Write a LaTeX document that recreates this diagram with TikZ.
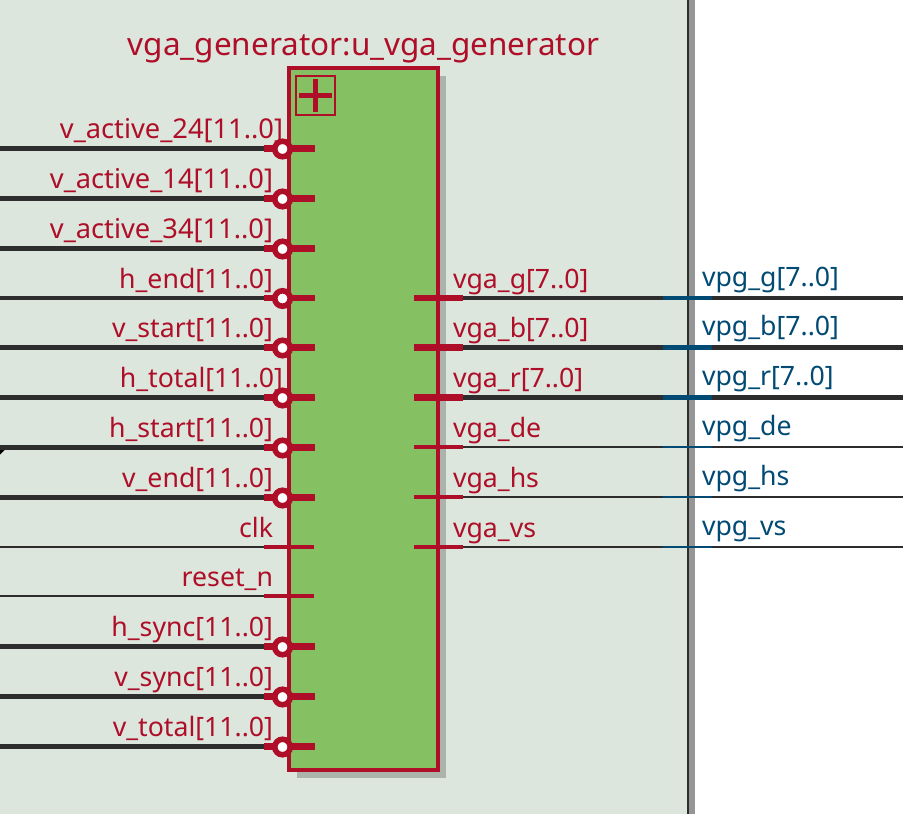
\documentclass[tikz,border=0pt]{standalone}
\usepackage{fontspec}
\setmainfont{Noto Sans}
\definecolor{panelbg}{HTML}{DDE6DD}
\definecolor{blockgreen}{HTML}{85C062}
\definecolor{blockred}{HTML}{AE0E28}
\definecolor{shadowgrey}{HTML}{ABB3AB}
\definecolor{wiredark}{HTML}{2D2D2D}
\definecolor{netblue}{HTML}{004A73}
\definecolor{sidegrey}{HTML}{969696}
\newcommand{\widelbl}{\fontsize{20.45}{24}\selectfont}
\tikzset{
  x=0.75pt,y=-0.75pt,
  lbl/.style={inner sep=0pt,outer sep=0pt,font=\fontsize{20}{24}\selectfont},
  leftlbl/.style={lbl,anchor=base east,text=blockred},
  rightlbl/.style={lbl,anchor=base west,text=blockred},
  netlbl/.style={lbl,anchor=base west,text=netblue},
  buswire/.style={draw=wiredark,line width=3.6pt},
  thinwire/.style={draw=wiredark,line width=1.7pt},
  busstub/.style={draw=blockred,line width=4.8pt},
  thinstub/.style={draw=blockred,line width=2.4pt},
  busnet/.style={draw=netblue,line width=3.6pt},
  thinnet/.style={draw=netblue,line width=1.9pt},
  bubble/.style={circle,draw=blockred,fill=white,line width=4.2pt,minimum size=11.6pt,inner sep=0pt},
  blockbox/.style={rectangle,draw=blockred,fill=blockgreen,line width=2.8pt,inner sep=0pt,
    minimum width=111.5pt,minimum height=526.3pt},
  plusbox/.style={rectangle,draw=blockred,line width=1.5pt,inner sep=0pt,minimum size=29.5pt},
}
\begin{document}
\begin{tikzpicture}
\useasboundingbox (0,0) rectangle (903,814);
\clip (0,0) rectangle (903,814);
\fill[white] (0,0) rectangle (903,814);
\fill[panelbg] (0,0) rectangle (687,814);
\fill[sidegrey] (688,0) rectangle (695,814);
\fill[wiredark] (686.6,0) rectangle (688.6,814);
% shadow and block
\fill[shadowgrey] (297,76) rectangle (446,777.7);
\node[blockbox] (block) at (363.65,418.85) {};
\node[plusbox] (plus) at (315.5,95.5) {};
\draw[blockred,line width=3.7pt] (plus.center) ++(-16.5,0) coordinate (plusW) -- ++(33,0) coordinate (plusE);
\draw[blockred,line width=3.7pt] (plus.center) ++(0,-16.5) coordinate (plusN) -- ++(0,33) coordinate (plusS);
\node[lbl,anchor=base,text=blockred,font=\fontsize{23.6}{28}\selectfont] (title) at (363.5,55) {vga\_generator:u\_vga\_generator};
% small wire corner mark
\fill[black] (0,450) -- (4.5,450) -- (0,454.5) -- cycle;
% bus inputs
\foreach \n/\y/\r/\t in {
  a/148.5/283/{\widelbl v\_active\_24[11..0]},
  b/198.5/273/{\widelbl v\_active\_14[11..0]},
  c/248.5/273/{\widelbl v\_active\_34[11..0]},
  d/298/273/{h\_end[11..0]},
  e/347.5/273/{v\_start[11..0]},
  f/397.5/283/{h\_total[11..0]},
  g/447.5/273/{h\_start[11..0]},
  h/497.5/273/{v\_end[11..0]},
  k/646.5/273/{h\_sync[11..0]},
  l/696.5/273/{v\_sync[11..0]},
  m/746.5/273/{v\_total[11..0]}}{
  \coordinate (src\n) at (0,\y);
  \coordinate (stubA\n) at (264,\y);
  \coordinate (stubB\n) at (315,\y);
  \draw[buswire] (src\n) -- (stubA\n);
  \draw[busstub] (stubA\n) -- (stubB\n);
  \node[bubble] (bub\n) at (282.5,\y+0.5) {};
  \node[leftlbl] (lab\n) at (\r,\y-10) {\t};
}
% single-bit inputs
\foreach \n/\y/\t in {i/547/clk,j/596/{reset\_n}}{
  \coordinate (src\n) at (0,\y);
  \coordinate (stubA\n) at (264,\y);
  \coordinate (stubB\n) at (314,\y);
  \draw[thinwire] (src\n) -- (stubA\n);
  \draw[thinstub] (stubA\n) -- (stubB\n);
  \node[leftlbl] (lab\n) at (273,\y-10) {\t};
}
% bus outputs
\foreach \n/\y/\t/\u in {
  p/298/{vga\_g[7..0]}/{vpg\_g[7..0]},
  q/347.5/{vga\_b[7..0]}/{vpg\_b[7..0]},
  r/397.5/{vga\_r[7..0]}/{vpg\_r[7..0]}}{
  \coordinate (oA\n) at (414,\y);
  \coordinate (oB\n) at (463,\y);
  \coordinate (oC\n) at (663,\y);
  \coordinate (oD\n) at (712,\y);
  \coordinate (oE\n) at (903,\y);
  \draw[buswire] (oB\n) -- (oE\n);
  \draw[busstub] (oA\n) -- (oB\n);
  \draw[busnet] (oC\n) -- (oD\n);
  \node[rightlbl] (lab\n) at (453,\y-10) {\t};
  \node[netlbl] (net\n) at (702,\y-12) {\u};
}
% single-bit outputs
\foreach \n/\y/\t/\u in {
  s/447/{vga\_de}/{vpg\_de},
  t/497/{vga\_hs}/{vpg\_hs},
  v/547/{vga\_vs}/{vpg\_vs}}{
  \coordinate (oA\n) at (414,\y);
  \coordinate (oB\n) at (463,\y);
  \coordinate (oC\n) at (663,\y);
  \coordinate (oD\n) at (712,\y);
  \coordinate (oE\n) at (903,\y);
  \draw[thinwire] (oB\n) -- (oE\n);
  \draw[thinstub] (oA\n) -- (oB\n);
  \draw[thinnet] (oC\n) -- (oD\n);
  \node[rightlbl] (lab\n) at (453,\y-10) {\t};
  \node[netlbl] (net\n) at (702,\y-12) {\u};
}
\end{tikzpicture}
\end{document}
